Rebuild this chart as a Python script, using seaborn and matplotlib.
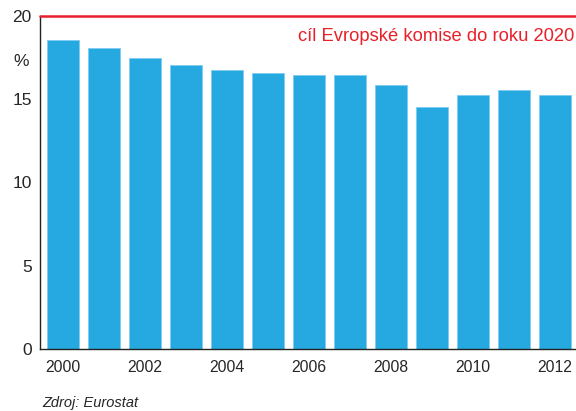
import matplotlib
matplotlib.use("Agg")
import matplotlib.pyplot as plt
import seaborn as sns
import pandas as pd

years = [2000, 2001, 2002, 2003, 2004, 2005, 2006, 2007, 2008, 2009, 2010, 2011, 2012]
values = [18.55, 18.05, 17.45, 17.05, 16.75, 16.55, 16.45, 16.45, 15.85, 14.55, 15.25, 15.55, 15.25]
target = 20
yticks = [0, 5, 10, 15, 20]
target_label = "cíl Evropské komise do roku 2020"
source_label = "Zdroj: Eurostat"

sns.set_theme(style="white")
plt.rcParams['font.family'] = ['Liberation Sans', 'DejaVu Sans']

df = pd.DataFrame({"year": [str(y) for y in years], "value": values})

fig = plt.figure(figsize=(5.76, 4.11), dpi=100)
ax = fig.add_axes([0.0694, 0.151, 0.9306, 0.810])
sns.barplot(data=df, x="year", y="value", color="#25A9E0", width=0.78,
            saturation=1, edgecolor="#7FCDF0", linewidth=0.6, ax=ax)

ax.set_ylim(0, 20)
ax.set_xlim(-0.56, 12.51)
ax.axhline(target, color="#E8202A", lw=1.8, zorder=5, clip_on=False)
ax.text(0.996, 0.94, target_label, transform=ax.transAxes, ha="right", va="center",
        color="#E8202A", fontsize=13.2)

ax.set_yticks(yticks)
ax.set_yticklabels([str(t) for t in yticks], fontsize=12.5)
ax.set_xticks(range(0, len(years), 2))
ax.set_xticklabels([str(y) for y in years[::2]], fontsize=11.3)
ax.tick_params(axis="y", direction="in", length=5, width=0.8, color="#333333", pad=6)
ax.tick_params(axis="x", length=0, pad=8)
ax.set_xlabel("")
ax.set_ylabel("")

for s in ["top", "right"]:
    ax.spines[s].set_visible(False)
for s in ["left", "bottom"]:
    ax.spines[s].set_color("#222222")
    ax.spines[s].set_linewidth(1.0)

fig.text(21 / 576, 1 - 62 / 411, "%", ha="center", va="center", fontsize=12.5)
fig.text(42 / 576, 1 - 403 / 411, source_label, ha="left", va="center",
         fontsize=10.5, style="italic")

fig.savefig("out.png", dpi=100)
